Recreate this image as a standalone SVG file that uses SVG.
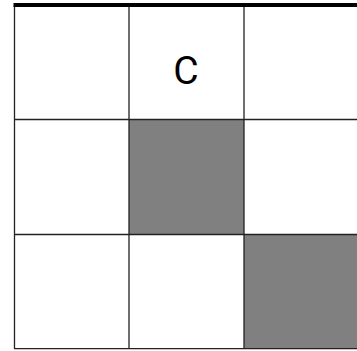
<svg xmlns="http://www.w3.org/2000/svg" width="357" height="351" viewBox="0 0 357 351">
<style>
.cell{fill:#ffffff}
.dark{fill:#808080}
.grid{stroke:#222;stroke-width:1.3;fill:none}
.lbl{font-family:Roboto,"Liberation Sans",sans-serif;font-size:39px;fill:#000;text-anchor:middle}
</style>
<rect width="357" height="351" fill="#fff"/>
<g id="cells">
<g id="c11"><rect class="cell" x="14" y="5" width="115" height="114.5"/></g>
<g id="c12"><rect class="cell" x="129" y="5" width="115" height="114.5"/><text class="lbl" x="186" y="84">C</text></g>
<g id="c13"><rect class="cell" x="244" y="5" width="115" height="114.5"/></g>
<g id="c21"><rect class="cell" x="14" y="119.5" width="115" height="115"/></g>
<g id="c22"><rect class="dark" x="129" y="119.5" width="115" height="115"/></g>
<g id="c23"><rect class="cell" x="244" y="119.5" width="115" height="115"/></g>
<g id="c31"><rect class="cell" x="14" y="234.5" width="115" height="114.5"/></g>
<g id="c32"><rect class="cell" x="129" y="234.5" width="115" height="114.5"/></g>
<g id="c33"><rect class="dark" x="244" y="234.5" width="115" height="114.5"/></g>
</g>
<g id="connectors">
<path class="grid" d="M14.5 5V349M129 5V349M244 5V349M14 119.5H357M14 234.5H357M14 348.7H357"/>
<rect x="13.5" y="3" width="344" height="4" fill="#000"/>
</g>
</svg>
